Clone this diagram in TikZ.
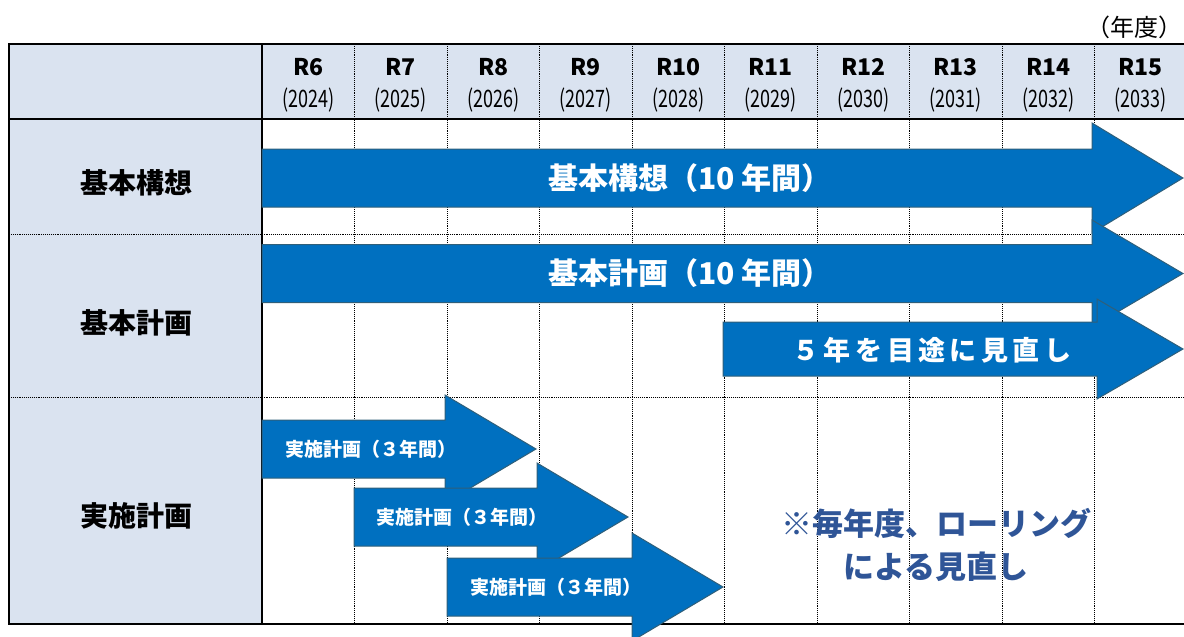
\documentclass[tikz,border=0pt]{standalone}
\usepackage{fontspec}
\usepackage{graphicx}
\setmainfont{Noto Sans CJK JP}
\definecolor{hdr}{HTML}{DAE3F0}
\definecolor{arrfill}{HTML}{0070C0}
\definecolor{arrline}{HTML}{2F5F7A}
\definecolor{notec}{HTML}{2F5597}
\def\lsk{\kern4.5pt}
\newcommand\myarrow[6]{\draw[arrsty] (#1,{#4-#5}) -- (#2,{#4-#5}) -- (#2,{#4-#6}) -- (#3,#4) -- (#2,{#4+#6}) -- (#2,{#4+#5}) -- (#1,{#4+#5}) -- cycle;}
\tikzset{
  gridline/.style={densely dotted, line width=0.9pt, black},
  border/.style={line width=2.2pt, black},
  arrsty/.style={fill=arrfill, draw=arrline, line width=1pt},
  hdrR/.style={font=\fontsize{23}{26}\selectfont\bfseries, inner sep=0pt},
  hdrY/.style={font=\fontsize{24}{26}\selectfont, inner sep=0pt},
  rowlab/.style={font=\fontsize{28}{30}\selectfont\bfseries, inner sep=0pt},
  bigtxt/.style={font=\fontsize{30}{32}\selectfont\bfseries, text=white, inner sep=0pt},
  smalltxt/.style={font=\fontsize{19}{20}\selectfont\bfseries, text=white, inner sep=0pt},
  notetxt/.style={font=\fontsize{31}{43}\selectfont\bfseries, text=notec, align=center, inner sep=0pt},
}
\begin{document}
\begin{tikzpicture}[x=1pt,y=-1pt]
\useasboundingbox (0,0) rectangle (1184,637);
\clip (0,0) rectangle (1184,637);
% backgrounds
\fill[hdr] (9,44) rectangle (262,624);
\fill[hdr] (262,44) rectangle (1184,119);
% grid
\foreach \i in {1,...,9} \draw[gridline] ({262+92.5*\i},44) -- ({262+92.5*\i},624);
\draw[gridline] (9,234) -- (1184,234);
\draw[gridline] (9,397) -- (1184,397);
% borders
\draw[border] (1184,44) -- (9,44) -- (9,624) -- (1184,624);
\draw[border] (9,119) -- (1184,119);
\draw[border] (262,44) -- (262,624);
% unit label
\node[font=\fontsize{24}{26}\selectfont, anchor=east, inner sep=0pt] (unit) at (1183,27) {（年度）};
% header
\foreach \r [count=\i from 0] in {6,...,15} {
  \pgfmathtruncatemacro\yr{2018+\r}
  \node[hdrR] (r\r) at ({262+92.5*(\i+0.5)},67) {R\r};
  \node[hdrY] (y\r) at ({262+92.5*(\i+0.5)},100) {\scalebox{0.75}[1]{(\yr)}};
}
% row labels
\node[rowlab] (l1) at (136,183) {基本構想};
\node[rowlab] (l2) at (136,323) {基本計画};
\node[rowlab] (l3) at (136,516) {実施計画};
% arrows
\myarrow{262}{1092}{1183}{178}{29}{55}
\myarrow{262}{1092}{1183}{273.5}{29}{53.5}
\myarrow{723}{1097}{1183}{349}{27}{50}
\myarrow{262}{445}{536}{449}{29}{54}
\myarrow{354}{537}{628}{517}{29}{54}
\myarrow{447}{632}{723}{587}{29}{54}
% arrow texts
\node[bigtxt] (t1) at (690,178) {基本構想（10 年間）};
\node[bigtxt] (t2) at (690,273) {基本計画（10 年間）};
\node[font=\fontsize{27}{30}\selectfont\bfseries, text=white, inner sep=0pt] (t3) at (932,350) {５\lsk 年\lsk を\lsk 目\lsk 途\lsk に\lsk 見\lsk 直\lsk し};
\node[smalltxt] (ta) at (371,449) {実施計画（３年間）};
\node[smalltxt] (tb) at (462,517) {実施計画（３年間）};
\node[smalltxt] (tc) at (556,587) {実施計画（３年間）};
% note
\node[notetxt] (note) at (936,545) {※毎年度、ローリング\\による見直し};
\end{tikzpicture}
\end{document}
